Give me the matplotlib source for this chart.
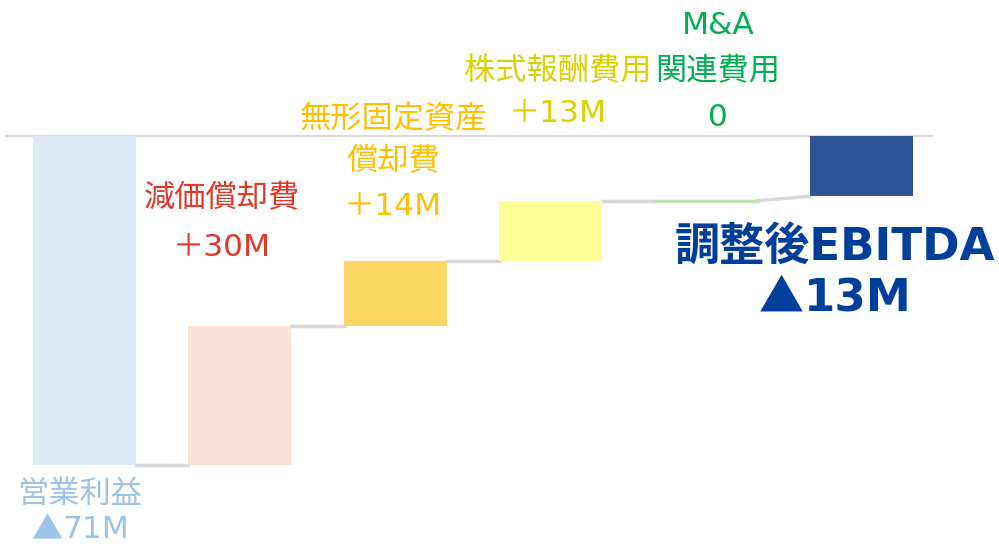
import matplotlib
matplotlib.use("Agg")
import matplotlib.pyplot as plt

# 欧文は DejaVu Sans（Meiryo に近い）、和文は Noto Sans CJK JP
plt.rcParams['font.family'] = ['DejaVu Sans', 'Noto Sans CJK JP']

# データ（単位：M）
labels = [["営業利益", "▲71M"], ["減価償却費", "＋30M"],
          ["無形固定資産", "償却費", "＋14M"], ["株式報酬費用", "＋13M"],
          ["M&A", "関連費用", "0"], ["調整後EBITDA", "▲13M"]]
start_value = -71
changes = [30, 14, 13, 0.4]
total_value = -13

bar_colors = ["#DEE9F5", "#FAE3D6", "#FDD766", "#FFFF99", "#C5E0B4", "#2F5597"]
text_colors = ["#9DC3E6", "#E0392B", "#FFC000", "#DDD000", "#00B050", "#003F99"]

# ラベル各行の位置（画像のピクセル, 左上基準）
label_px_x = [80, 222, 393, 558, 718, 835]
label_px_y = [[494, 530], [199, 247], [120, 162, 207], [72, 114],
              [26, 72, 117], [247, 299]]

W, H = 999, 547
fig = plt.figure(figsize=(W / 100, H / 100), dpi=100)
ax = fig.add_axes([5 / W, 0, 928 / W, 1])
ax.set_xlim(-0.512, 5.463)
ax.set_ylim(-88.7, 29.35)
ax.axis("off")

ax.axhline(0, color="#D9D9D9", lw=1.5, zorder=1)

# 各バーの下端と高さ
bottoms = [0]
heights = [start_value]
cum = start_value
for c in changes:
    bottoms.append(cum)
    heights.append(c)
    cum += c
bottoms.append(0)
heights.append(total_value)

w = 0.663
xs = list(range(len(labels)))
for i in xs:
    if i == 4:
        ax.plot([i - w / 2, i + w / 2], [bottoms[i], bottoms[i]],
                color=bar_colors[i], lw=2.5, zorder=2)
    else:
        ax.bar(i, heights[i], bottom=bottoms[i], width=w,
               color=bar_colors[i], zorder=2)

# コネクタ線
ends = [b + h for b, h in zip(bottoms, heights)]
ends[4] = bottoms[4]
for i in range(len(xs) - 1):
    y0 = ends[i]
    y1 = bottoms[i + 1] if i + 1 < 5 else ends[5]
    ax.plot([i + w / 2, i + 1 - w / 2], [y0, y1], color="#D9D9D9",
            lw=2.5, zorder=1)

# ラベル
renderer = fig.canvas.get_renderer()
for i in xs:
    if i == 5:
        kw = dict(color=text_colors[i], fontsize=32.5, fontweight="bold")
    else:
        kw = dict(color=text_colors[i], fontsize=22.5)
    for line, py in zip(labels[i], label_px_y[i]):
        fx = label_px_x[i] / W
        fy = 1 - py / H
        if line.startswith("▲"):
            # ▲ は和文フォントで大きく描く
            t1 = fig.text(fx, fy, "▲", ha="left", va="center",
                          family=["Noto Sans CJK JP"], **kw)
            t2 = fig.text(fx, fy, line[1:], ha="left", va="center", **kw)
            w1 = t1.get_window_extent(renderer).width
            w2 = t2.get_window_extent(renderer).width
            left = label_px_x[i] - (w1 + w2) / 2
            t1.set_x(left / W)
            t2.set_x((left + w1) / W)
        else:
            fig.text(fx, fy, line, ha="center", va="center", **kw)

fig.savefig("out.png", dpi=100)
